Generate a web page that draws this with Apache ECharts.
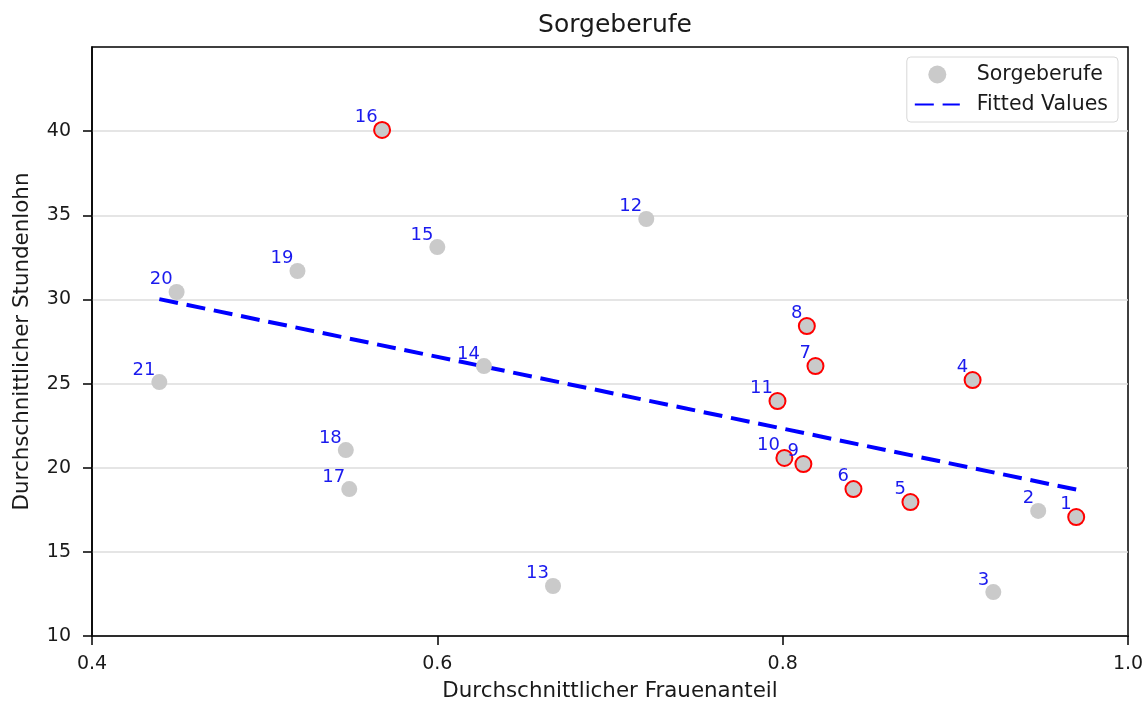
<!DOCTYPE html>
<html>
<head>
<meta charset="utf-8">
<script src="https://cdn.jsdelivr.net/npm/echarts@6/dist/echarts.min.js"></script>
<style>
  html, body { margin: 0; padding: 0; background: #fff; }
  #chart { width: 1144px; height: 704px; }
</style>
</head>
<body>
<div id="chart"></div>
<script>
// Berufe 1..21: Frauenanteil (x) und Stundenlohn (y)
const berufNr = ['1', '2', '3', '4', '5', '6', '7', '8', '9', '10', '11', '12', '13', '14', '15', '16', '17', '18', '19', '20', '21']
const frauenanteil = [0.970, 0.948, 0.922, 0.910, 0.874, 0.841, 0.819, 0.814, 0.812, 0.801, 0.797,
  0.721, 0.667, 0.627, 0.600, 0.568, 0.549, 0.547, 0.519, 0.449, 0.439]
const stundenlohn = [17.07, 17.43, 12.61, 25.21, 17.96, 18.73, 26.04, 28.42, 20.22, 20.58, 23.96,
  34.78, 12.97, 26.04, 33.11, 40.07, 18.73, 21.05, 31.69, 30.44, 25.09]
// rot markierte Berufe
const markiert = ['1', '4', '5', '6', '7', '8', '9', '10', '11', '16']

// Regressionsgerade (Endpunkte)
const fitX = [0.439, 0.970]
const fitY = [30.02, 18.70]

const xTicks = [0.4, 0.6, 0.8, 1.0]
const yTicks = [10, 15, 20, 25, 30, 35, 40]

const font = 'DejaVu Sans'
const textColor = '#1a1a1a'

const chart = echarts.init(document.getElementById('chart'), null, { renderer: 'canvas' })

const scatterData = berufNr.map((nr, i) => {
  const item = { name: nr, value: [frauenanteil[i], stundenlohn[i]] }
  if (markiert.includes(nr)) {
    item.itemStyle = { borderColor: '#ff0000', borderWidth: 2 }
  }
  return item
})

const option = {
  animation: false,
  backgroundColor: '#fff',
  textStyle: { fontFamily: font },
  title: {
    text: 'Sorgeberufe',
    left: 610,
    top: 8,
    textAlign: 'center',
    textStyle: { fontFamily: font, fontSize: 25, fontWeight: 'normal', color: textColor }
  },
  legend: {
    orient: 'vertical',
    right: 26,
    top: 57,
    padding: [7, 10, 7, 7],
    itemGap: 9,
    itemWidth: 45,
    itemHeight: 18,
    borderColor: '#d8d8d8',
    borderWidth: 1,
    borderRadius: 4,
    backgroundColor: '#fff',
    textStyle: { fontFamily: font, fontSize: 20.5, color: textColor, padding: [0, 0, 0, 12] },
    data: [
      { name: 'Sorgeberufe' },
      { name: 'Fitted Values', itemStyle: { opacity: 0 } }
    ]
  },
  grid: {
    left: 92, right: 16, top: 47, bottom: 68,
    outerBoundsMode: 'none',
    show: true,
    borderColor: '#000',
    borderWidth: 1.5
  },
  xAxis: {
    type: 'value',
    min: 0.4,
    max: 1.0,
    interval: 0.2,
    name: 'Durchschnittlicher Frauenanteil',
    nameLocation: 'middle',
    nameGap: 45,
    nameTextStyle: { fontFamily: font, fontSize: 21.4, color: textColor },
    axisLine: { show: true, lineStyle: { color: '#000', width: 1.5 } },
    axisTick: { show: true, length: 9, lineStyle: { color: '#000', width: 1.5 } },
    axisLabel: {
      color: textColor, fontFamily: font, fontSize: 19, margin: 19,
      formatter: (v) => v.toFixed(1),
      customValues: xTicks
    },
    splitLine: { show: false }
  },
  yAxis: {
    type: 'value',
    min: 10,
    max: 45,
    interval: 5,
    name: 'Durchschnittlicher Stundenlohn',
    nameLocation: 'middle',
    nameGap: 59,
    nameTextStyle: { fontFamily: font, fontSize: 21.4, color: textColor },
    axisLine: { show: true, lineStyle: { color: '#000', width: 1.5 } },
    axisTick: { show: true, length: 9, lineStyle: { color: '#000', width: 1.5 }, customValues: yTicks },
    axisLabel: {
      color: textColor, fontFamily: font, fontSize: 19, margin: 21,
      customValues: yTicks
    },
    splitLine: { show: true, lineStyle: { color: '#dcdcdc', width: 1.5 } }
  },
  series: [
    {
      name: 'Sorgeberufe',
      type: 'scatter',
      symbol: 'circle',
      symbolSize: 16,
      itemStyle: { color: '#cacaca', opacity: 1 },
      label: {
        show: true,
        formatter: (p) => p.name,
        position: ['25%', '30%'],
        align: 'right',
        verticalAlign: 'bottom',
        color: '#1a1aee',
        fontFamily: font,
        fontSize: 18
      },
      data: scatterData,
      z: 3
    },
    {
      name: 'Fitted Values',
      type: 'line',
      symbol: 'none',
      lineStyle: { color: '#0000ff', width: 4, type: [19, 8.8] },
      itemStyle: { color: '#0000ff' },
      data: fitX.map((x, i) => [x, fitY[i]]),
      z: 2
    }
  ]
}

chart.setOption(option)
</script>
</body>
</html>
